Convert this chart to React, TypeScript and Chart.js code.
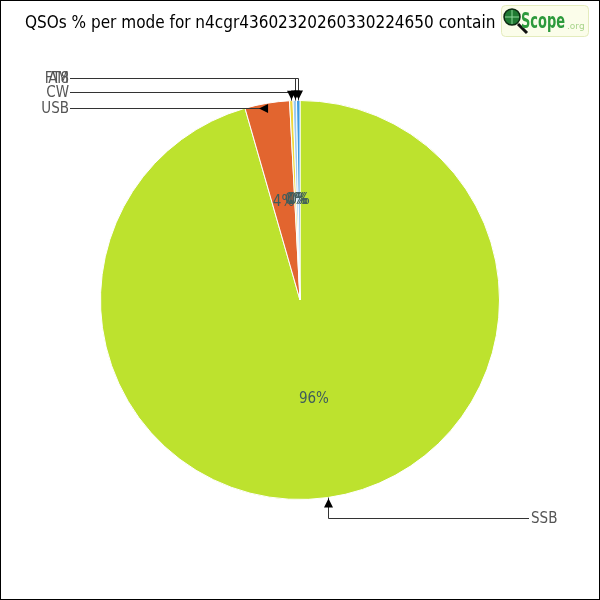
import React, { useEffect, useRef } from "react";
import { Chart, registerables } from "chart.js";

Chart.register(...registerables);

const titleText = "QSOs % per mode for n4cgr43602320260330224650 contain";
const modes = ["SSB", "USB", "CW", "AM", "FT8"];
const qsoCounts = [344, 13, 1, 1, 1];
const sliceColors = ["#bde22e", "#e2652f", "#efd83c", "#9ccbee", "#3d9ce0"];

// layout for callout labels (side, label y)
const calloutLayout: Record<string, { side: "left" | "right"; y: number }> = {
  SSB: { side: "right", y: 518 },
  USB: { side: "left", y: 108 },
  CW: { side: "left", y: 92 },
  AM: { side: "left", y: 78 },
  FT8: { side: "left", y: 78 },
};

function arrow(ctx: CanvasRenderingContext2D, x: number, y: number, dx: number, dy: number) {
  const len = Math.hypot(dx, dy) || 1;
  const ux = dx / len, uy = dy / len;
  const L = 9, W = 4.5;
  ctx.beginPath();
  ctx.moveTo(x, y);
  ctx.lineTo(x - ux * L - uy * W, y - uy * L + ux * W);
  ctx.lineTo(x - ux * L + uy * W, y - uy * L - ux * W);
  ctx.closePath();
  ctx.fill();
}

const decorPlugin = {
  id: "decor",
  beforeDraw(chart: any) {
    const ctx = chart.ctx as CanvasRenderingContext2D;
    ctx.save();
    ctx.fillStyle = "#ffffff";
    ctx.fillRect(0, 0, chart.width, chart.height);
    ctx.restore();
  },
  afterDraw(chart: any) {
    const ctx = chart.ctx as CanvasRenderingContext2D;
    const meta = chart.getDatasetMeta(0);
    const total = qsoCounts.reduce((a, b) => a + b, 0);
    ctx.save();
    // percent labels
    ctx.font = "300 15px 'DejaVu Sans Condensed', 'Liberation Sans Narrow', sans-serif";
    ctx.fillStyle = "#3e5c5c";
    ctx.textAlign = "center";
    ctx.textBaseline = "middle";
    meta.data.forEach((arc: any, i: number) => {
      const p = arc.getProps(["x", "y", "startAngle", "endAngle", "outerRadius"], true);
      const mid = (p.startAngle + p.endAngle) / 2;
      const r = p.outerRadius / 2;
      const pct = Math.round((qsoCounts[i] / total) * 100);
      ctx.fillText(pct + "%", p.x + Math.cos(mid) * r, p.y + Math.sin(mid) * r);
    });
    // callouts
    ctx.lineWidth = 1;
    meta.data.forEach((arc: any, i: number) => {
      const p = arc.getProps(["x", "y", "startAngle", "endAngle", "outerRadius"], true);
      const mid = (p.startAngle + p.endAngle) / 2;
      const ex = p.x + Math.cos(mid) * p.outerRadius;
      const ey = p.y + Math.sin(mid) * p.outerRadius;
      const lay = calloutLayout[modes[i]];
      const ly = lay.y;
      const lx = lay.side === "left" ? 70 : 529;
      ctx.strokeStyle = "#333333";
      ctx.beginPath();
      ctx.moveTo(lx, ly + 0.5);
      if (Math.abs(ly - ey) < 8) {
        ctx.lineTo(ex, ly + 0.5);
        ctx.stroke();
        ctx.fillStyle = "#000";
        arrow(ctx, ex - 8, ly + 0.5, lx - ex, 0);
      } else {
        const vx = Math.round(ex) + 0.5;
        ctx.lineTo(vx, ly + 0.5);
        ctx.lineTo(vx, ey);
        ctx.stroke();
        ctx.fillStyle = "#000";
        arrow(ctx, vx, ey + (ey > ly ? -1 : 1), 0, ey - ly);
      }
      ctx.font = "300 15px 'DejaVu Sans Condensed', 'Liberation Sans Narrow', sans-serif";
      ctx.fillStyle = "#555555";
      ctx.textBaseline = "middle";
      if (lay.side === "left") {
        ctx.textAlign = "right";
        ctx.fillText(modes[i], lx - 1, ly + 1);
      } else {
        ctx.textAlign = "left";
        ctx.fillText(modes[i], lx + 2, ly + 1);
      }
    });
    // title
    ctx.font = "17px 'DejaVu Sans Condensed', 'Liberation Sans Narrow', sans-serif";
    ctx.fillStyle = "#000000";
    ctx.textAlign = "left";
    ctx.textBaseline = "middle";
    ctx.fillText(titleText, 25, 24, 472);
    // logo
    ctx.fillStyle = "#fbfdea";
    ctx.strokeStyle = "#e4ecbd";
    ctx.lineWidth = 1;
    ctx.beginPath();
    (ctx as any).roundRect(501.5, 5.5, 87, 31, 4);
    ctx.fill();
    ctx.stroke();
    ctx.strokeStyle = "#111";
    ctx.lineWidth = 3;
    ctx.beginPath();
    ctx.moveTo(518, 24);
    ctx.lineTo(527, 33);
    ctx.stroke();
    ctx.fillStyle = "#1f7a32";
    ctx.beginPath();
    ctx.arc(512, 17, 8, 0, Math.PI * 2);
    ctx.fill();
    ctx.lineWidth = 1.5;
    ctx.strokeStyle = "#0d2a12";
    ctx.stroke();
    ctx.strokeStyle = "#8fd89a";
    ctx.lineWidth = 1;
    ctx.beginPath();
    ctx.moveTo(512, 10); ctx.lineTo(512, 24);
    ctx.moveTo(505, 17); ctx.lineTo(519, 17);
    ctx.stroke();
    ctx.fillStyle = "#2d9a3c";
    ctx.font = "bold 21px 'Liberation Sans Narrow', 'DejaVu Sans Condensed', sans-serif";
    ctx.textAlign = "left";
    ctx.textBaseline = "alphabetic";
    ctx.fillText("Scope", 521, 28, 44);
    ctx.fillStyle = "#a7d48a";
    ctx.font = "9px 'DejaVu Sans', sans-serif";
    ctx.fillText(".org", 567, 29);
    // frame
    ctx.strokeStyle = "#000";
    ctx.lineWidth = 1;
    ctx.strokeRect(0.5, 0.5, chart.width - 1, chart.height - 1);
    ctx.restore();
  },
};

export default function App() {
  const ref = useRef<HTMLCanvasElement | null>(null);
  useEffect(() => {
    document.body.style.margin = "0";
    const chart = new Chart(ref.current as HTMLCanvasElement, {
      type: "pie",
      data: {
        labels: modes,
        datasets: [
          {
            data: qsoCounts,
            backgroundColor: sliceColors,
            borderColor: "#ffffff",
            borderWidth: 1,
          },
        ],
      },
      options: {
        animation: false,
        responsive: false,
        layout: { padding: 100 },
        plugins: {
          legend: { display: false },
          tooltip: { enabled: false },
          title: { display: false },
        },
      },
      plugins: [decorPlugin],
    });
    return () => chart.destroy();
  }, []);
  return <canvas ref={ref} width={600} height={600} style={{ display: "block" }} />;
}
